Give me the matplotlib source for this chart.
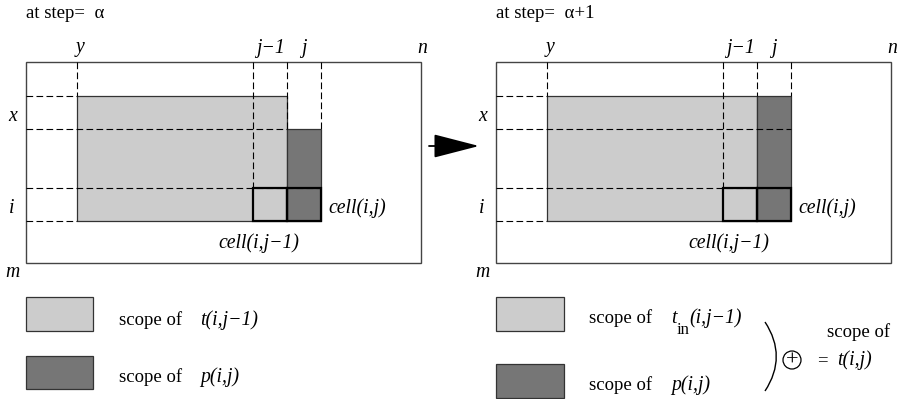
import matplotlib
matplotlib.use("Agg")
import matplotlib.pyplot as plt
from matplotlib.patches import Rectangle, Circle, FancyArrowPatch, PathPatch
from matplotlib.path import Path

# ── Diagram geometry (pixel space of a 901x399 canvas) ───────────────────────
OUTER_X = [26, 421]          # matrix left / right
OUTER_Y = [62, 263]          # matrix top / bottom
COLS = [77, 253, 287, 321]   # y, j-1, j, j+1 boundaries
ROWS = [96, 129, 188, 221]   # x-top, x, i, i+1 boundaries
PANEL_DX = [0, 470]          # horizontal offset of each panel
STEP_LABELS = ["at step=  \u03b1", "at step=  \u03b1+1"]

LIGHT = "#cccccc"
DARK = "#767676"
EDGE = "#333333"
MINUS = "\u2212"

plt.rcParams["font.family"] = ["Liberation Serif", "DejaVu Serif"]

fig = plt.figure(figsize=(9.01, 3.99), dpi=100)
ax = fig.add_axes([0, 0, 1, 1])
ax.set_xlim(0, 901)
ax.set_ylim(399, 0)
ax.axis("off")

FS = 13.5
FS_IT = 14.2
dash = dict(color="black", lw=0.8, ls=(0, (6, 3)))
rm = dict(fontsize=FS, va="baseline")
it = dict(fontsize=FS_IT, va="baseline", style="italic")


def hline(y, x0, x1):
    ax.plot([x0, x1], [y, y], **dash)


def vline(x, y0, y1):
    ax.plot([x, x], [y0, y1], **dash)


def panel(k):
    dx = PANEL_DX[k]
    L, R = OUTER_X[0] + dx, OUTER_X[1] + dx
    T, B = OUTER_Y
    cy, cj1, cj, cj2 = [c + dx for c in COLS]
    r0, r1, r2, r3 = ROWS

    ax.add_patch(Rectangle((L, T), R - L, B - T, fill=False, ec="#444444", lw=1.0))

    # light: scope of t(i,j-1)
    ax.add_patch(Rectangle((cy, r0), cj - cy, r3 - r0, fc=LIGHT, ec=EDGE, lw=0.9))
    # dark: scope of p(i,j)
    dtop = r1 if k == 0 else r0
    ax.add_patch(Rectangle((cj, dtop), cj2 - cj, r3 - dtop, fc=DARK, ec=EDGE, lw=0.9))

    # dashed guide lines
    vline(cy, T, r0)
    vline(cj1, T, r2)
    vline(cj, T, dtop)
    vline(cj2, T, dtop)
    hline(r0, L, cy)
    hline(r1, L, cj if k == 0 else cj2)
    hline(r2, L, cj2)
    hline(r3, L, cy)

    # bold cells
    for x0 in (cj1, cj):
        ax.add_patch(Rectangle((x0, r2), cj2 - cj, r3 - r2, fill=False, ec="black", lw=1.6))

    # labels
    ax.text(L, 18, STEP_LABELS[k], ha="left", **rm)
    ax.text(cy + 3, 52, "y", ha="center", **it)
    ax.text(cj1 + 17, 53, "j" + MINUS + "1", ha="center", **it)
    ax.text(cj + 17, 53, "j", ha="center", **it)
    ax.text(R + 1, 53, "n", ha="center", **it)
    ax.text(L - 13, 121, "x", ha="center", **it)
    ax.text(L - 14, 213, "i", ha="center", **it)
    ax.text(L - 14, 277, "m", ha="center", **it)
    ax.text(cj2 + 7, 213, "cell(i,j)", ha="left", **it)
    ax.text(cj1 - 35, 248, "cell(i,j" + MINUS + "1)", ha="left", **it)


for k in range(2):
    panel(k)

# transition arrow
ax.add_patch(FancyArrowPatch((429, 146), (479, 146),
                             arrowstyle="-|>,head_length=2.4,head_width=0.62",
                             mutation_scale=12, color="black", lw=1.3,
                             shrinkA=0, shrinkB=0))

# legend left
ax.add_patch(Rectangle((26, 297), 67, 34, fc=LIGHT, ec=EDGE, lw=0.9))
ax.add_patch(Rectangle((26, 356), 67, 33, fc=DARK, ec=EDGE, lw=0.9))
ax.text(119, 325, "scope of", **rm)
ax.text(200, 325, "t(i,j" + MINUS + "1)", **it)
ax.text(119, 382, "scope of", **rm)
ax.text(200, 382, "p(i,j)", **it)

# legend right
ax.add_patch(Rectangle((496, 297), 68, 34, fc=LIGHT, ec=EDGE, lw=0.9))
ax.add_patch(Rectangle((496, 364), 68, 34, fc=DARK, ec=EDGE, lw=0.9))
ax.text(589, 323, "scope of", **rm)
ax.text(671, 323, "t", **it)
ax.text(677, 334, "in", fontsize=12, va="baseline")
ax.text(689, 323, "(i,j" + MINUS + "1)", **it)
ax.text(589, 390, "scope of", **rm)
ax.text(671, 390, "p(i,j)", **it)

# bracket, circled plus and result
br = Path([(765, 322), (780, 345), (780, 368), (765, 391)],
          [Path.MOVETO, Path.CURVE4, Path.CURVE4, Path.CURVE4])
ax.add_patch(PathPatch(br, fill=False, lw=1.0, ec="black"))
ax.add_patch(Circle((792, 360), 9, fill=False, ec="black", lw=0.9))
ax.text(792, 366, "+", fontsize=16, ha="center", va="baseline")
ax.text(859, 337, "scope of", ha="center", **rm)
ax.text(822, 365, "=", ha="center", **rm)
ax.text(837, 365, "t(i,j)", ha="left", **it)

fig.savefig("out.png", dpi=100)
